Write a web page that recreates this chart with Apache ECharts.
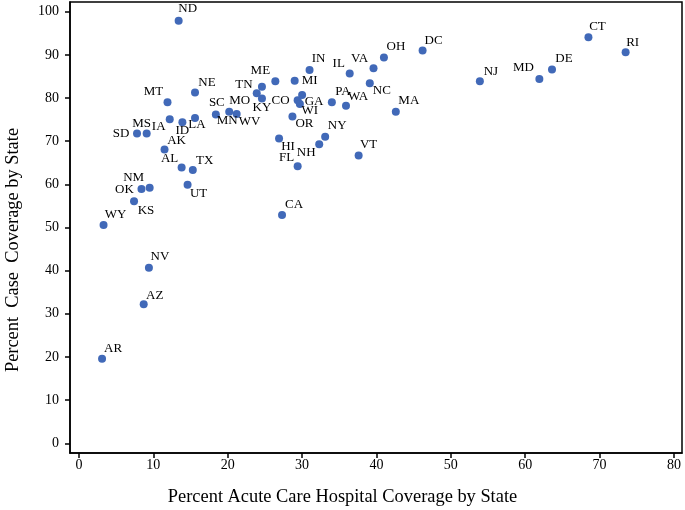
<!DOCTYPE html>
<html>
<head>
<meta charset="utf-8">
<script src="https://cdn.jsdelivr.net/npm/echarts@6/dist/echarts.min.js"></script>
<style>
html,body{margin:0;padding:0;background:#fff;}
#c{width:685px;height:510px;}
</style>
</head>
<body>
<div id="c"></div>
<script>
// ---- data ----
const states = ["ND","NE","MT","ME","TN","MO","KY","SC","MN","WV","CO","GA","WI","MI","IN","OR","IL","VA","OH","DC","NC","PA","WA","MA","NY","NH","HI","FL","VT","CA","NJ","MD","DE","CT","RI","MS","IA","ID","LA","SD","AK","AL","TX","UT","NM","OK","KS","WY","NV","AZ","AR"];
const hospitalCoverage = [13.4,15.6,11.9,26.4,24.6,23.9,24.6,18.4,20.2,21.2,29.4,30.0,29.7,29.0,31.0,28.7,36.4,39.6,41.0,46.2,39.1,34.0,35.9,42.6,33.1,32.3,26.9,29.4,37.6,27.3,53.9,61.9,63.6,68.5,73.5,9.1,12.2,13.9,15.6,7.8,11.5,13.8,15.3,14.6,9.5,8.4,7.4,3.3,9.4,8.7,3.1];
const caseCoverage = [97.9,81.3,79.0,83.9,82.6,81.1,79.9,76.2,76.8,76.3,79.5,80.7,78.6,84.0,86.5,75.7,85.7,86.9,89.4,91.0,83.4,79.0,78.2,76.8,71.0,69.3,70.6,64.2,66.7,52.9,83.9,84.4,86.6,94.1,90.6,71.8,75.1,74.4,75.4,71.8,68.1,63.9,63.3,59.9,59.2,58.9,56.1,50.6,40.7,32.2,19.6];
const tickValuesX = [0,10,20,30,40,50,60,70,80];
const tickValuesY = [0,10,20,30,40,50,60,70,80,90,100];

// ---- label layout (pixel offsets of each state label from its dot) ----
const labelOffsets = {
  ND:[9,-12], NE:[12,-10], MT:[-14,-11], ME:[-15,-11], TN:[-18,-2], MO:[-17,7], KY:[0,9],
  SC:[1,-12], MN:[-2,9], WV:[13,8], CO:[-17,0], GA:[12,7], WI:[10,7], MI:[15,0], IN:[9,-11],
  OR:[12,7], IL:[-11,-10], VA:[-14,-10], OH:[12,-11], DC:[11,-10], NC:[12,7], PA:[11,-11],
  WA:[12,-9], MA:[13,-11], NY:[12,-11], NH:[-13,8], HI:[9,8], FL:[-11,-9], VT:[10,-11],
  CA:[12,-10], NJ:[11,-10], MD:[-16,-11], DE:[12,-11], CT:[9,-11], RI:[7,-10], MS:[-5,-10],
  IA:[-11,7], ID:[0,8], LA:[2,7], SD:[-16,0], AK:[12,-9], AL:[-12,-9], TX:[12,-10], UT:[11,9],
  NM:[-16,-10], OK:[-17,0], KS:[12,9], WY:[12,-10], NV:[11,-11], AZ:[11,-9], AR:[11,-10]
};

const FONT = "'Liberation Serif', 'Times New Roman', serif";
const points = states.map((s, i) => ({
  value: [hospitalCoverage[i], caseCoverage[i]],
  name: s,
  label: { offset: labelOffsets[s] || [10, -10] }
}));

const chart = echarts.init(document.getElementById('c'), null, {renderer: 'canvas'});
chart.setOption({
  animation: false,
  backgroundColor: '#fff',
  grid: { left: 70, right: 3, top: 2, bottom: 57, show: true, borderColor: '#000', borderWidth: 1.5, containLabel: false },
  xAxis: {
    type: 'value', min: -1.21, max: 81.08,
    splitLine: { show: false },
    axisLine: { show: true, onZero: false, lineStyle: { color: '#000', width: 1.5 } },
    axisTick: { show: true, length: 5, inside: false, customValues: tickValuesX, lineStyle: { color: '#000', width: 1.5 } },
    axisLabel: { customValues: tickValuesX, color: '#000', fontFamily: FONT, fontSize: 14, margin: 5 }
  },
  yAxis: {
    type: 'value', min: -2.25, max: 102.25,
    splitLine: { show: false },
    axisLine: { show: true, onZero: false, lineStyle: { color: '#000', width: 1.5 } },
    axisTick: { show: true, length: 5, inside: false, customValues: tickValuesY, lineStyle: { color: '#000', width: 1.5 } },
    axisLabel: { customValues: tickValuesY, color: '#000', fontFamily: FONT, fontSize: 14, margin: 11 }
  },
  graphic: [
    { type: 'text', left: 'center', top: 488, style: { text: 'Percent Acute Care Hospital Coverage by State', fill: '#000', font: '18.4px ' + FONT } },
    { type: 'text', x: 4, y: 250, rotation: Math.PI / 2, style: { text: 'Percent  Case  Coverage by State', fill: '#000', font: '18.4px ' + FONT, align: 'center', verticalAlign: 'top' } }
  ],
  series: [{
    type: 'scatter',
    symbolSize: 8,
    itemStyle: { color: '#4169b8', opacity: 1 },
    label: {
      show: true, position: 'inside', formatter: p => p.name,
      color: '#000', fontFamily: FONT, fontSize: 13, textBorderWidth: 0, opacity: 1
    },
    data: points
  }]
});
</script>
</body>
</html>
